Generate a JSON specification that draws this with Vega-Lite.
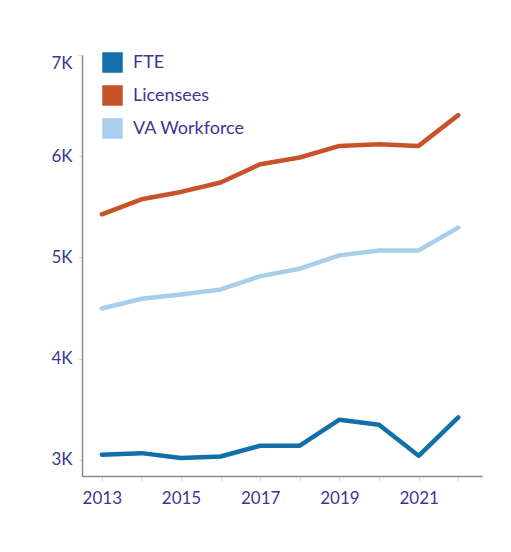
{
  "$schema": "https://vega.github.io/schema/vega-lite/v6.json",
  "autosize": "none",
  "width": 400,
  "height": 421,
  "padding": {"left": 82, "top": 55, "right": 29, "bottom": 76},
  "background": "white",
  "config": {
    "view": {"stroke": null},
    "font": "Lato",
    "axis": {
      "labelFont": "Lato",
      "labelFontSize": 17,
      "labelColor": "#3a3892",
      "domainColor": "#8a8a8a",
      "domainWidth": 1.5,
      "tickColor": "#dddddd",
      "grid": false,
      "title": null
    }
  },
  "data": {
    "values": [
      {"year": 2013, "series": "FTE", "value": 3050},
      {"year": 2014, "series": "FTE", "value": 3066},
      {"year": 2015, "series": "FTE", "value": 3017},
      {"year": 2016, "series": "FTE", "value": 3033},
      {"year": 2017, "series": "FTE", "value": 3139},
      {"year": 2018, "series": "FTE", "value": 3139},
      {"year": 2019, "series": "FTE", "value": 3396},
      {"year": 2020, "series": "FTE", "value": 3347},
      {"year": 2021, "series": "FTE", "value": 3040},
      {"year": 2022, "series": "FTE", "value": 3419},
      {"year": 2013, "series": "Licensees", "value": 5426},
      {"year": 2014, "series": "Licensees", "value": 5574},
      {"year": 2015, "series": "Licensees", "value": 5647},
      {"year": 2016, "series": "Licensees", "value": 5740},
      {"year": 2017, "series": "Licensees", "value": 5921},
      {"year": 2018, "series": "Licensees", "value": 5987},
      {"year": 2019, "series": "Licensees", "value": 6102},
      {"year": 2020, "series": "Licensees", "value": 6119},
      {"year": 2021, "series": "Licensees", "value": 6102},
      {"year": 2022, "series": "Licensees", "value": 6406},
      {"year": 2013, "series": "VA Workforce", "value": 4495},
      {"year": 2014, "series": "VA Workforce", "value": 4591},
      {"year": 2015, "series": "VA Workforce", "value": 4634},
      {"year": 2016, "series": "VA Workforce", "value": 4683},
      {"year": 2017, "series": "VA Workforce", "value": 4815},
      {"year": 2018, "series": "VA Workforce", "value": 4888},
      {"year": 2019, "series": "VA Workforce", "value": 5020},
      {"year": 2020, "series": "VA Workforce", "value": 5069},
      {"year": 2021, "series": "VA Workforce", "value": 5069},
      {"year": 2022, "series": "VA Workforce", "value": 5294}
    ]
  },
  "mark": {"type": "line", "strokeWidth": 4.5, "strokeCap": "round", "strokeJoin": "round"},
  "encoding": {
    "x": {
      "field": "year",
      "type": "quantitative",
      "scale": {"domain": [2012.5, 2022.6], "nice": false, "zero": false},
      "axis": {
        "values": [2013, 2014, 2015, 2016, 2017, 2018, 2019, 2020, 2021, 2022],
        "format": "d",
        "labelExpr": "datum.value % 2 == 1 ? datum.label : ''",
        "labelPadding": 9,
        "tickSize": 5
      }
    },
    "y": {
      "field": "value",
      "type": "quantitative",
      "scale": {"domain": [2840, 7000], "nice": false, "zero": false},
      "axis": {
        "values": [3000, 4000, 5000, 6000, 7000],
        "labelExpr": "(datum.value / 1000) + 'K'",
        "labelFlush": true,
        "labelPadding": 6,
        "tickSize": 4
      }
    },
    "color": {
      "field": "series",
      "type": "nominal",
      "scale": {
        "domain": ["FTE", "Licensees", "VA Workforce"],
        "range": ["#1170aa", "#c8522a", "#a7cfec"]
      },
      "legend": {
        "title": null,
        "orient": "none",
        "legendX": 20,
        "legendY": -3,
        "symbolType": "square",
        "symbolSize": 420,
        "symbolStrokeWidth": 0,
        "symbolOpacity": 1,
        "labelFont": "Lato",
        "labelFontSize": 18,
        "labelColor": "#3a3892",
        "rowPadding": 12,
        "labelOffset": 10,
        "encode": {
          "symbols": {
            "update": {
              "fill": {"scale": "color", "field": "value"},
              "fillOpacity": {"value": 1},
              "strokeWidth": {"value": 0}
            }
          }
        }
      }
    }
  }
}
